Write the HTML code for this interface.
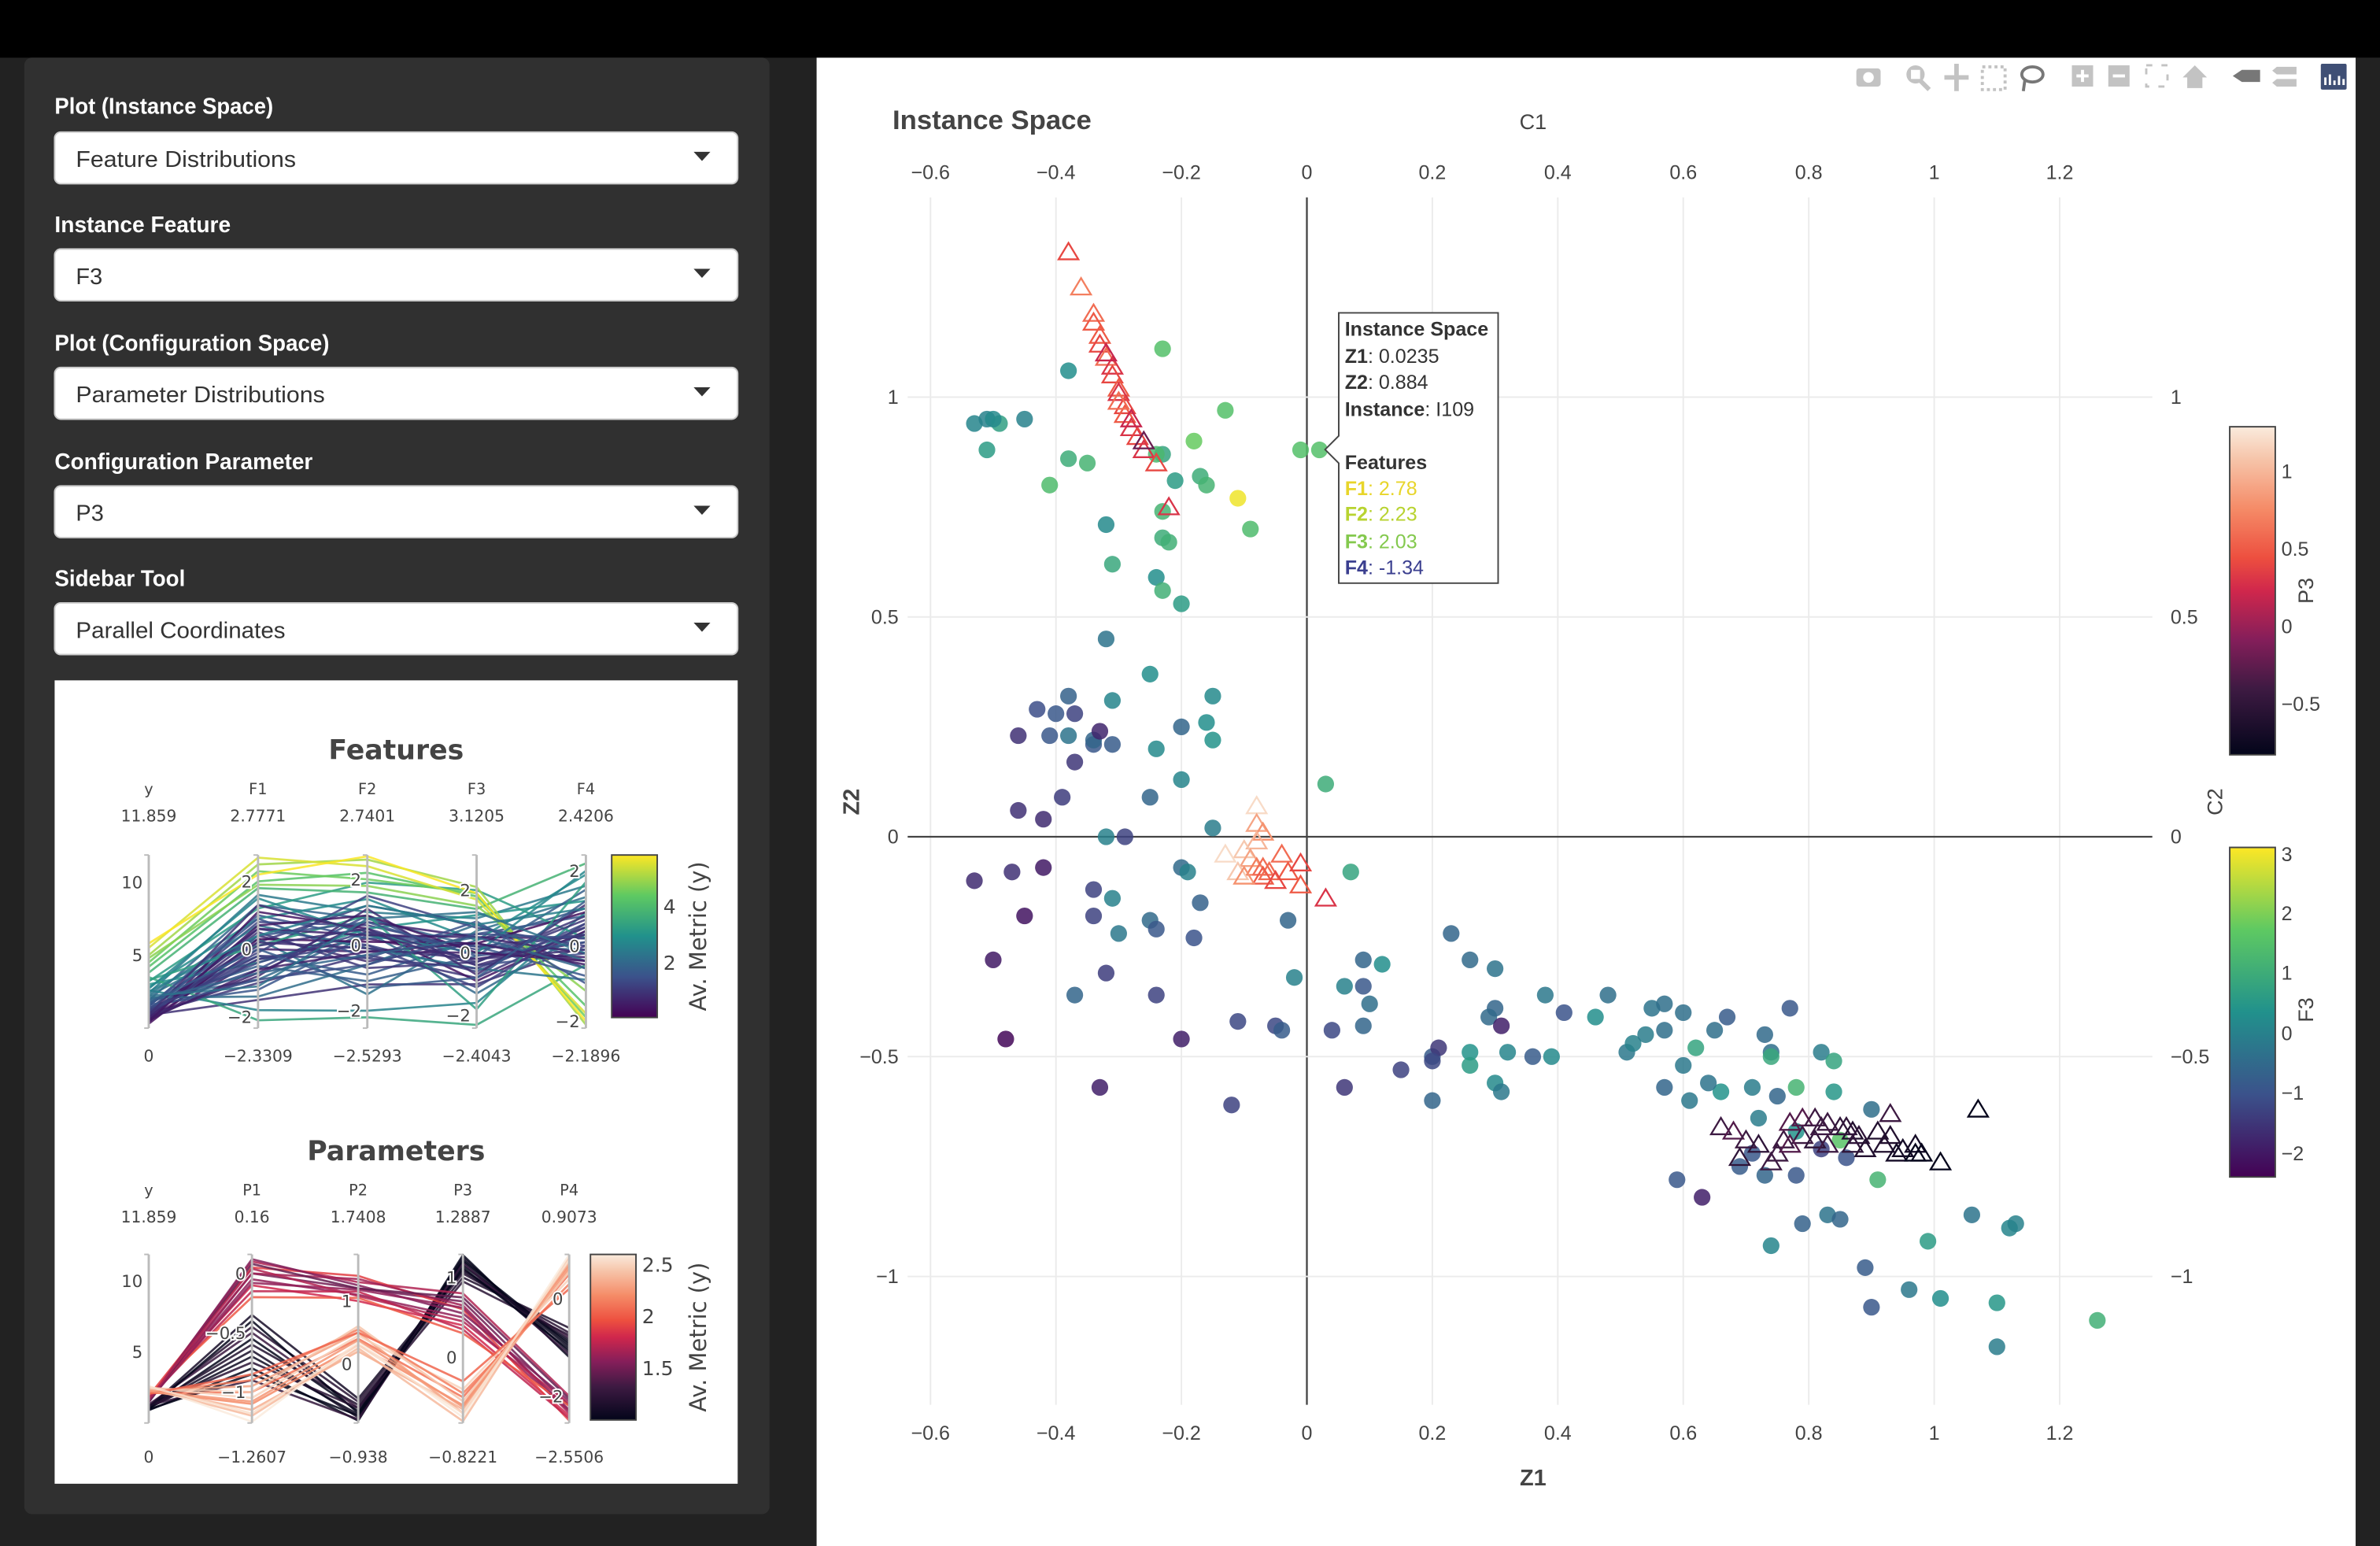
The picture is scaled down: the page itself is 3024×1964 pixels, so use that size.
<!DOCTYPE html>
<html><head><meta charset="utf-8"><style>
html,body{margin:0;padding:0;background:#222;}
svg{display:block;}
text{font-family:"Liberation Sans",sans-serif;}
.pc text{font-family:"DejaVu Sans","Liberation Sans",sans-serif;}
</style></head><body>
<svg id="root" width="3024" height="1964" viewBox="0 0 1568 1018" preserveAspectRatio="none" xmlns="http://www.w3.org/2000/svg">
<defs>
<linearGradient id="gViridis" x1="0" y1="1" x2="0" y2="0">
<stop offset="0" stop-color="#440154"/><stop offset="0.25" stop-color="#3b528b"/><stop offset="0.5" stop-color="#21918c"/><stop offset="0.75" stop-color="#5ec962"/><stop offset="1" stop-color="#fde725"/>
</linearGradient>
<linearGradient id="gRocket" x1="0" y1="1" x2="0" y2="0">
<stop offset="0" stop-color="#03051a"/><stop offset="0.2" stop-color="#3d1a42"/><stop offset="0.35" stop-color="#841e5a"/><stop offset="0.5" stop-color="#d0274c"/><stop offset="0.6" stop-color="#ed4f3f"/><stop offset="0.75" stop-color="#f58b67"/><stop offset="0.9" stop-color="#f6c4a9"/><stop offset="1" stop-color="#faebdd"/>
</linearGradient>
</defs>
<rect x="0" y="0" width="1568" height="1018" fill="#222"/>
<rect x="0" y="0" width="1568" height="38" fill="#000"/>

<g>
<rect x="16" y="38" width="491" height="959" rx="5" fill="#303030"/>
<g fill="#fff" font-weight="bold" font-size="15">
<text x="36" y="75" textLength="144" lengthAdjust="spacingAndGlyphs">Plot (Instance Space)</text>
<text x="36" y="153" textLength="116" lengthAdjust="spacingAndGlyphs">Instance Feature</text>
<text x="36" y="231" textLength="181" lengthAdjust="spacingAndGlyphs">Plot (Configuration Space)</text>
<text x="36" y="309" textLength="170" lengthAdjust="spacingAndGlyphs">Configuration Parameter</text>
<text x="36" y="386" textLength="86" lengthAdjust="spacingAndGlyphs">Sidebar Tool</text>
</g>
<g><rect x="36" y="87" width="450" height="34" rx="4" fill="#fff" stroke="#ccc"/><text x="50" y="110" font-size="15" fill="#333" textLength="145" lengthAdjust="spacingAndGlyphs">Feature Distributions</text><path d="M457 100h11l-5.5 6z" fill="#333"/></g>
<g><rect x="36" y="164" width="450" height="34" rx="4" fill="#fff" stroke="#ccc"/><text x="50" y="187" font-size="15" fill="#333">F3</text><path d="M457 177h11l-5.5 6z" fill="#333"/></g>
<g><rect x="36" y="242" width="450" height="34" rx="4" fill="#fff" stroke="#ccc"/><text x="50" y="265" font-size="15" fill="#333" textLength="164" lengthAdjust="spacingAndGlyphs">Parameter Distributions</text><path d="M457 255h11l-5.5 6z" fill="#333"/></g>
<g><rect x="36" y="320" width="450" height="34" rx="4" fill="#fff" stroke="#ccc"/><text x="50" y="343" font-size="15" fill="#333">P3</text><path d="M457 333h11l-5.5 6z" fill="#333"/></g>
<g><rect x="36" y="397" width="450" height="34" rx="4" fill="#fff" stroke="#ccc"/><text x="50" y="420" font-size="15" fill="#333" textLength="138" lengthAdjust="spacingAndGlyphs">Parallel Coordinates</text><path d="M457 410h11l-5.5 6z" fill="#333"/></g>
<rect x="36" y="448" width="450" height="529" fill="#fff"/>
<g class="pc" id="pcFeat">
<text x="261" y="500" text-anchor="middle" font-size="18" font-weight="bold" fill="#444">Features</text>
</g>
<g class="pc" id="pcPar">
<text x="261" y="764" text-anchor="middle" font-size="18" font-weight="bold" fill="#444">Parameters</text>
</g>
</g>

<rect x="538" y="38" width="1014" height="980" fill="#fff"/>
<g id="main">
<text x="588" y="85" font-size="18" font-weight="bold" fill="#444">Instance Space</text>
<text x="1010" y="85" font-size="14" fill="#444" text-anchor="middle">C1</text>
<text x="1010" y="978" font-size="15" font-weight="bold" fill="#444" text-anchor="middle">Z1</text>
<text transform="translate(566,528) rotate(-90)" font-size="15" font-weight="bold" fill="#444" text-anchor="middle">Z2</text>
<text transform="translate(1464,528) rotate(-90)" font-size="14" fill="#444" text-anchor="middle">C2</text>
<g id="grid"></g>
<g id="marks"></g>
<g>
<path d="M882 206H987V384H882V305L873 296L882 287Z" fill="#fff" stroke="#444" stroke-width="1"/>
<g font-size="13" fill="#333">
<text x="886" y="221" font-weight="bold">Instance Space</text>
<text x="886" y="239"><tspan font-weight="bold">Z1</tspan>: 0.0235</text>
<text x="886" y="256"><tspan font-weight="bold">Z2</tspan>: 0.884</text>
<text x="886" y="274"><tspan font-weight="bold">Instance</tspan>: I109</text>
<text x="886" y="309" font-weight="bold">Features</text>
<text x="886" y="326" fill="#e8d52a"><tspan font-weight="bold">F1</tspan>: 2.78</text>
<text x="886" y="343" fill="#b8d330"><tspan font-weight="bold">F2</tspan>: 2.23</text>
<text x="886" y="361" fill="#84c94e"><tspan font-weight="bold">F3</tspan>: 2.03</text>
<text x="886" y="378" fill="#3b3f8f"><tspan font-weight="bold">F4</tspan>: -1.34</text>
</g></g>
<g>
<rect x="1469" y="281" width="30" height="216" fill="url(#gRocket)" stroke="#444" stroke-width="1"/>
<g font-size="13" fill="#444"><text x="1503" y="315">1</text><text x="1503" y="366">0.5</text><text x="1503" y="417">0</text><text x="1503" y="468">−0.5</text></g>
<text transform="translate(1524,389) rotate(-90)" font-size="14" fill="#444" text-anchor="middle">P3</text>
</g>
<g>
<rect x="1469" y="558" width="30" height="217" fill="url(#gViridis)" stroke="#444" stroke-width="1"/>
<g font-size="13" fill="#444"><text x="1503" y="567">3</text><text x="1503" y="606">2</text><text x="1503" y="645">1</text><text x="1503" y="685">0</text><text x="1503" y="724">−1</text><text x="1503" y="764">−2</text></g>
<text transform="translate(1524,665) rotate(-90)" font-size="14" fill="#444" text-anchor="middle">F3</text>
</g>
<g fill="#c3c3c3">
<g><rect x="1223" y="45" width="16" height="12" rx="2"/><circle cx="1231" cy="51" r="3.5" fill="#fff"/></g>
<g><circle cx="1262" cy="49" r="6"/><rect x="1259" y="46" width="6" height="6" fill="#fff"/><path d="M1265 53l6 6" stroke="#c3c3c3" stroke-width="3"/></g>
<g><path d="M1289 42v18M1281 51h16" stroke="#c3c3c3" stroke-width="3"/></g>
<g><rect x="1306" y="44" width="15" height="15" fill="none" stroke="#c3c3c3" stroke-width="2" stroke-dasharray="2 2"/></g>
<g><ellipse cx="1339" cy="49" rx="7" ry="5" fill="none" stroke="#777" stroke-width="2"/><path d="M1334 53l-1 7" stroke="#777" stroke-width="2"/></g>
<g><rect x="1365" y="43" width="14" height="14"/><path d="M1372 46v8M1368 50h8" stroke="#fff" stroke-width="2"/></g>
<g><rect x="1389" y="43" width="14" height="14"/><path d="M1392 50h8" stroke="#fff" stroke-width="2"/></g>
<g><rect x="1414" y="43" width="14" height="14" fill="none" stroke="#c3c3c3" stroke-width="1.5" stroke-dasharray="4 6"/></g>
<g><path d="M1438 51l8-8 8 8h-3v7h-10v-7z"/></g>
<g><path d="M1471 50l6-4h12v8h-12z" fill="#777"/></g>
<g><path d="M1500 44h13v5h-13l-3-2.5zM1500 52h13v5h-13l-3-2.5z"/></g>
<g><rect x="1529" y="42" width="17" height="17" rx="1" fill="#3f4f75"/><path d="M1532 56v-5M1535 56v-7M1538 56v-3M1541 56v-6M1544 56v-4" stroke="#fff" stroke-width="1.5"/></g>
</g>
</g>
<rect x="1552" y="38" width="16" height="980" fill="#222"/>
</svg>
<script>
const circleZ1 = [-0.53,-0.51,-0.49,-0.50,-0.45,-0.51,-0.38,-0.38,-0.35,-0.41,-0.23,-0.13,-0.18,-0.21,-0.23,-0.17,-0.16,-0.32,-0.23,-0.23,-0.22,-0.31,-0.09,-0.24,-0.23,-0.20,-0.01,0.02,-0.11,-0.24,
-0.32,-0.25,-0.38,-0.43,-0.40,-0.37,-0.46,-0.41,-0.31,-0.15,-0.16,-0.34,-0.37,-0.38,-0.34,-0.31,-0.33,-0.24,-0.20,-0.15,-0.20,-0.25,-0.39,-0.46,-0.42,-0.32,-0.29,0.03,-0.15,
-0.53,-0.47,-0.42,-0.45,-0.50,-0.34,-0.31,-0.34,-0.30,-0.25,-0.24,-0.18,-0.17,-0.20,-0.19,-0.03,-0.32,-0.37,-0.24,0.07,-0.02,-0.48,-0.20,-0.33,-0.11,-0.05,-0.04,-0.12,
0.04,0.06,0.09,0.12,0.06,0.09,0.10,0.09,0.15,0.20,0.21,0.20,0.20,0.23,0.26,0.30,0.30,0.29,0.26,0.31,0.32,0.30,0.31,0.26,0.36,0.39,0.38,0.41,0.48,0.46,0.51,0.52,0.55,0.57,0.57,0.54,0.60,0.62,0.65,0.67,0.60,0.57,0.61,0.66,0.73,0.77,0.74,0.71,0.74,0.75,0.78,0.82,0.84,0.78,0.72,0.59,0.63,0.69,0.71,0.73,0.78,0.82,0.85,0.91,0.74,0.79,0.83,0.85,0.89,0.90,0.96,1.01,1.06,1.10,1.10,1.12,1.13,1.26,0.99,0.84,0.64,0.86,0.90];
const circleZ2 = [0.94,0.95,0.94,0.95,0.95,0.88,1.06,0.86,0.85,0.80,1.11,0.97,0.90,0.81,0.87,0.82,0.80,0.71,0.74,0.68,0.67,0.62,0.70,0.59,0.56,0.53,0.88,0.88,0.77,0.87,
0.45,0.37,0.32,0.29,0.28,0.28,0.23,0.23,0.31,0.32,0.26,0.21,0.17,0.23,0.22,0.21,0.24,0.20,0.25,0.22,0.13,0.09,0.09,0.06,0.04,0.00,0.00,0.12,0.02,
-0.10,-0.08,-0.07,-0.18,-0.28,-0.12,-0.14,-0.18,-0.22,-0.19,-0.21,-0.23,-0.15,-0.07,-0.08,-0.19,-0.31,-0.36,-0.36,-0.08,-0.32,-0.46,-0.46,-0.57,-0.42,-0.43,-0.44,-0.61,
-0.44,-0.57,-0.28,-0.29,-0.34,-0.43,-0.38,-0.34,-0.53,-0.50,-0.48,-0.51,-0.60,-0.22,-0.28,-0.30,-0.39,-0.41,-0.49,-0.43,-0.49,-0.56,-0.58,-0.52,-0.50,-0.50,-0.36,-0.40,-0.36,-0.41,-0.49,-0.47,-0.39,-0.38,-0.44,-0.45,-0.40,-0.48,-0.44,-0.41,-0.52,-0.57,-0.60,-0.58,-0.45,-0.39,-0.49,-0.57,-0.50,-0.59,-0.57,-0.49,-0.58,-0.67,-0.64,-0.78,-0.82,-0.75,-0.72,-0.77,-0.77,-0.71,-0.69,-0.78,-0.93,-0.88,-0.86,-0.87,-0.98,-1.07,-1.03,-1.05,-0.86,-1.06,-1.16,-0.89,-0.88,-1.10,-0.92,-0.51,-0.56,-0.73,-0.62];
const circleF3 = [0.1,0.0,0.7,0.2,0.0,0.6,0.3,1.0,1.2,1.4,1.5,1.5,1.8,0.6,0.8,1.0,1.2,0.2,1.2,1.0,1.1,0.9,1.4,0.3,1.1,0.6,1.5,1.5,3.0,1.3,
-0.3,0.3,-0.7,-1.1,-0.9,-1.3,-1.6,-0.9,0.1,0.2,0.3,-0.9,-1.5,-0.3,-0.6,-0.8,-1.8,0.2,-0.6,0.4,0.1,-0.6,-1.4,-1.6,-1.7,0.0,-1.3,1.0,-0.1,
-1.7,-1.6,-2.0,-2.1,-2.0,-1.3,0.0,-1.3,-0.2,-0.5,-0.9,-1.0,-0.7,-0.5,0.0,-0.6,-1.4,-0.6,-1.3,0.8,0.0,-2.3,-1.9,-1.9,-1.2,-1.2,-0.8,-1.3,
-1.2,-1.5,-0.6,0.3,0.0,-0.6,-0.4,-0.9,-1.3,-0.8,-1.5,-1.2,-0.6,-0.6,-0.5,-0.3,-0.6,-0.5,0.4,-1.9,0.1,0.2,-0.2,0.6,-0.8,0.2,-0.2,-1.0,-0.4,0.3,-0.2,0.0,-0.3,-0.4,-0.4,-0.1,-0.4,0.8,-0.4,-0.8,-0.2,-0.6,-0.2,0.4,-0.5,-0.9,-0.4,-0.1,0.9,-0.6,1.2,-0.1,0.5,0.4,-0.1,-0.9,-1.9,-0.8,-0.9,-0.6,-0.9,-1.3,1.6,1.2,0.1,-0.7,-0.3,-0.6,-0.8,-0.9,-0.2,0.3,-0.3,0.5,-0.1,0.1,0.0,1.1,0.6,0.8,-0.3,-1.0,-0.4];
const triZ1 = [-0.38,-0.36,-0.34,-0.34,-0.33,-0.33,-0.32,-0.31,-0.31,-0.30,-0.30,-0.29,-0.29,-0.28,-0.27,-0.26,-0.26,-0.24,-0.22,-0.32,-0.30,-0.28,
-0.08,-0.08,-0.07,-0.08,-0.10,-0.09,-0.08,-0.07,-0.11,-0.06,-0.07,-0.04,-0.03,-0.01,-0.01,0.03,-0.10,-0.05,-0.13,
0.66,0.68,0.70,0.72,0.74,0.69,0.76,0.77,0.79,0.81,0.83,0.85,0.79,0.81,0.83,0.87,0.88,0.91,0.93,0.93,0.89,0.92,0.94,0.95,0.97,0.98,1.01,0.97,1.07,0.75,0.77,0.87,0.82,0.86];
const triZ2 = [1.33,1.25,1.19,1.17,1.14,1.12,1.09,1.07,1.05,1.02,1.01,0.98,0.96,0.93,0.91,0.88,0.90,0.85,0.75,1.10,0.99,0.95,
0.07,0.03,0.01,-0.01,-0.03,-0.05,-0.07,-0.07,-0.08,-0.08,-0.09,-0.04,-0.08,-0.06,-0.11,-0.14,-0.09,-0.10,-0.04,
-0.66,-0.67,-0.69,-0.70,-0.74,-0.73,-0.69,-0.65,-0.64,-0.64,-0.65,-0.66,-0.68,-0.69,-0.70,-0.67,-0.68,-0.67,-0.63,-0.68,-0.71,-0.70,-0.72,-0.71,-0.70,-0.72,-0.74,-0.72,-0.62,-0.72,-0.70,-0.70,-0.66,-0.66];
const triP3 = [0.4,0.7,0.6,0.5,0.5,0.4,0.6,0.3,0.4,0.5,0.3,0.4,0.5,0.3,0.4,0.3,-0.2,0.4,0.3,0.2,0.6,0.2,
1.2,0.9,0.8,1.0,1.1,0.9,0.7,0.6,1.1,0.6,0.5,0.6,0.5,0.4,0.5,0.3,0.8,0.4,1.2,
-0.4,-0.3,-0.4,-0.5,-0.4,-0.5,-0.4,-0.3,-0.3,-0.4,-0.4,-0.5,-0.4,-0.5,-0.4,-0.6,-0.5,-0.6,-0.4,-0.6,-0.6,-0.6,-0.7,-0.7,-0.7,-0.8,-0.8,-0.8,-0.8,-0.4,-0.3,-0.5,-0.4,-0.5];
const xTicks = [-0.6,-0.4,-0.2,0,0.2,0.4,0.6,0.8,1,1.2];
const yTicks = [-1,-0.5,0,0.5,1];

const featDims = ['y','F1','F2','F3','F4'];
const featMax = [11.859,2.7771,2.7401,3.1205,2.4206];
const featMin = [0,-2.3309,-2.5293,-2.4043,-2.1896];
const featTicks = [[5,10],[-2,0,2],[-2,0,2],[-2,0,2],[-2,0,2]];
const featLines = [
[0.5,-0.3,0.2,-0.2,0.1],[0.8,0.4,-0.5,0.3,-0.4],[1.0,-1.0,-0.3,-0.8,0.5],[1.2,0.8,0.6,0.1,0.3],[1.4,-0.6,0.9,-0.4,-0.2],
[1.5,1.0,0.2,0.6,0.8],[0.9,-1.5,-1.2,-1.0,0.0],[1.1,0.2,1.2,0.9,-0.6],[1.7,-0.2,-0.9,0.4,1.0],[1.3,0.6,0.0,-0.6,0.6],
[1.9,1.3,0.8,0.2,-0.1],[2.0,-0.9,0.4,-1.3,0.4],[2.2,0.3,-1.5,0.7,1.3],[2.4,1.6,1.0,1.1,1.6],[2.6,-1.8,-2.0,-1.6,0.9],
[2.8,0.9,1.4,0.4,1.9],[3.0,-0.4,0.5,1.2,1.2],[3.2,1.2,1.9,2.0,0.2],[3.5,-2.1,-2.2,-2.3,-0.5],[3.8,1.8,1.6,1.4,2.2],
[4.2,2.0,2.2,1.8,-1.6],[4.5,2.3,2.0,1.9,-1.9],[5.0,2.5,2.6,2.1,-2.1],[5.5,2.7,2.4,1.7,-1.8],[5.8,2.2,2.7,1.9,-2.0],
[4.8,1.9,1.8,1.5,-1.2],[0.6,0.0,-0.2,0.0,-0.3],[0.7,-0.7,0.7,0.5,0.2],[1.0,0.5,-0.7,-0.3,0.7],[1.6,-1.2,0.3,0.2,-0.8],
[0.4,1.1,0.5,-0.9,0.4],[1.2,-0.1,1.5,0.8,0.0],[2.3,0.7,-0.1,-0.5,-0.9],[1.8,-0.5,-1.1,-0.1,1.5],[0.3,0.3,0.1,0.3,0.9],
[2.1,-1.4,-0.6,0.9,-0.4],[3.3,0.1,0.9,-1.8,1.7],[1.5,0.9,-0.4,1.0,-1.0],[0.8,-0.8,1.1,-0.7,1.1],[2.7,1.5,0.3,0.0,2.0],
[0.9,0.2,-0.1,-0.2,-0.1],[1.3,-0.4,0.4,0.2,0.3],[0.7,0.6,0.3,0.5,-0.2],[1.1,-0.2,-0.4,-0.5,0.5],[1.6,0.4,0.7,-0.1,0.1],
[0.6,-0.6,-0.2,0.3,-0.5],[1.0,0.1,0.5,-0.3,0.8],[1.4,-0.9,-0.6,0.6,0.2],[0.5,0.7,0.9,0.0,-0.4],[1.2,-0.3,0.0,-1.1,0.6],
[2.5,0.4,1.2,0.9,1.0],[1.9,-0.7,-0.3,0.5,-0.6],[0.9,1.3,0.4,-0.4,0.3],[1.7,0.0,-1.3,-0.8,1.2],[2.2,-1.1,0.8,1.3,-0.2]];
const parDims = ['y','P1','P2','P3','P4'];
const parMax = [11.859,0.16,1.7408,1.2887,0.9073];
const parMin = [0,-1.2607,-0.938,-0.8221,-2.5506];
const parTicks = [[5,10],[-1,-0.5,0],[0,1],[0,1],[-2,0]];
const parLines = [
[1.0,-0.55,-0.75,1.15,-0.9],[1.1,-0.65,-0.85,1.25,-1.1],[1.2,-0.45,-0.6,1.05,-0.7],[0.9,-0.8,-0.9,1.28,-1.2],[1.3,-0.5,-0.7,1.1,-0.8],
[1.05,-0.7,-0.8,1.2,-1.0],[1.15,-0.6,-0.65,1.0,-0.6],[1.25,-0.9,-0.88,1.18,-1.15],[1.0,-0.4,-0.78,1.22,-0.95],[1.2,-0.75,-0.7,0.95,-0.75],
[1.1,-0.35,-0.55,1.08,-0.85],[0.95,-0.85,-0.82,1.12,-1.05],
[1.5,0.0,1.2,0.7,-2.2],[1.6,-0.05,1.1,0.5,-2.3],[1.7,0.1,1.3,0.8,-2.0],[1.8,-0.1,1.0,0.4,-2.4],[1.9,0.05,1.4,0.6,-2.5],
[1.55,0.12,1.25,0.55,-2.1],[1.75,-0.15,1.15,0.35,-2.45],[1.65,0.0,1.35,0.65,-2.35],[2.0,-0.2,1.05,0.3,-2.2],[1.45,0.08,1.2,0.75,-2.05],
[1.6,-0.08,1.18,0.62,-2.28],[1.7,0.04,1.08,0.45,-2.15],
[2.1,-1.0,0.4,-0.5,0.5],[2.2,-1.1,0.3,-0.6,0.7],[2.3,-0.95,0.5,-0.7,0.6],[2.4,-1.2,0.25,-0.8,0.85],[2.5,-1.05,0.45,-0.4,0.4],
[2.6,-1.25,0.35,-0.75,0.9],[2.15,-0.9,0.55,-0.45,0.3],[2.35,-1.15,0.2,-0.65,0.75],[2.45,-1.0,0.6,-0.55,0.55],[2.05,-0.85,0.5,-0.3,0.2],
[2.25,-1.08,0.38,-0.62,0.65],[2.55,-1.18,0.3,-0.7,0.8]];

const NS = 'http://www.w3.org/2000/svg';
function mk(tag, attrs, parent){const e=document.createElementNS(NS,tag);for(const k in attrs)e.setAttribute(k,attrs[k]);if(parent)parent.appendChild(e);return e;}
function hex(c){return [parseInt(c.slice(1,3),16),parseInt(c.slice(3,5),16),parseInt(c.slice(5,7),16)];}
function cmap(stops, t){t=Math.max(0,Math.min(1,t));for(let i=1;i<stops.length;i++){if(t<=stops[i][0]){const a=stops[i-1],b=stops[i];const u=(t-a[0])/(b[0]-a[0]);const ca=hex(a[1]),cb=hex(b[1]);return 'rgb('+ca.map((v,j)=>Math.round(v+(cb[j]-v)*u)).join(',')+')';}}return stops[stops.length-1][1];}
const VIR=[[0,'#440154'],[0.25,'#3b528b'],[0.5,'#21918c'],[0.75,'#5ec962'],[1,'#fde725']];
const ROC=[[0,'#03051a'],[0.2,'#3d1a42'],[0.35,'#841e5a'],[0.5,'#d0274c'],[0.6,'#ed4f3f'],[0.75,'#f58b67'],[0.9,'#f6c4a9'],[1,'#faebdd']];
function fmt(v){return (v<0?'−':'')+Math.abs(v);}

const sx = v => 861 + v*413.3;
const sy = v => 551 - v*289.5;
const grid = document.getElementById('grid');
xTicks.forEach(t=>{
  const l=mk('line',{x1:sx(t),x2:sx(t),y1:130,y2:925,stroke:t===0?'#444':'#ebebeb','stroke-width':t===0?1.2:1},grid);
  
  
  [118,948].forEach(yy=>{const tx=mk('text',{x:sx(t),y:yy,'font-size':13,fill:'#444','text-anchor':'middle'},grid);tx.textContent=fmt(t);
  
  });
});
yTicks.forEach(t=>{
  const l=mk('line',{x1:598,x2:1418,y1:sy(t),y2:sy(t),stroke:t===0?'#444':'#ebebeb','stroke-width':t===0?1.2:1},grid);
  
  
  const a=mk('text',{x:592,y:sy(t)+4.5,'font-size':13,fill:'#444','text-anchor':'end'},grid);a.textContent=fmt(t);
  
  
  const b=mk('text',{x:1430,y:sy(t)+4.5,'font-size':13,fill:'#444'},grid);b.textContent=fmt(t);
  
  
});
const marks=document.getElementById('marks');
const f3min=-2.4043,f3max=3.1205,p3min=-0.8221,p3max=1.2887;
circleZ1.forEach((z,i)=>{
  const c=mk('circle',{cx:sx(z),cy:sy(circleZ2[i]),r:5.5,fill:cmap(VIR,(circleF3[i]-f3min)/(f3max-f3min)),'fill-opacity':0.85},marks);
  
  
});
triZ1.forEach((z,i)=>{
  const x=sx(z),y=sy(triZ2[i]);
  const p=mk('path',{d:`M${x} ${y-6}L${x-6.5} ${y+4.8}L${x+6.5} ${y+4.8}Z`,fill:'none',stroke:cmap(ROC,(triP3[i]-p3min)/(p3max-p3min)),'stroke-width':1.2},marks);
  
  
});

function parcoords(gid, dims, mins, maxs, ticks, lines, axX, top, bot, stops, cmin, cmax, labY, valY, botY, cbX, cbTop, cbBot, cbTicks, cbGrad){
  const g=document.getElementById(gid);
  const py=(d,v)=>bot-(v-mins[d])/(maxs[d]-mins[d])*(bot-top);
  lines.forEach(L=>{
    const pts=L.map((v,d)=>axX[d]+','+py(d,v)).join(' ');
    const pl=mk('polyline',{points:pts,fill:'none',stroke:cmap(stops,(L[0]-cmin)/(cmax-cmin)),'stroke-width':1.4,'stroke-opacity':0.85},g);
    
    
  });
  dims.forEach((nm,d)=>{
    const ax=mk('line',{x1:axX[d],x2:axX[d],y1:top,y2:bot,stroke:'#bbb','stroke-width':1.5},g);
    
    
    mk('line',{x1:axX[d]-3,x2:axX[d],y1:top,y2:top,stroke:'#bbb'},g);
    mk('line',{x1:axX[d]-3,x2:axX[d],y1:bot,y2:bot,stroke:'#bbb'},g);
    const t1=mk('text',{x:axX[d],y:labY,'font-size':10,fill:'#444','text-anchor':'middle'},g);t1.textContent=nm;
    
    
    const t2=mk('text',{x:axX[d],y:valY,'font-size':10.5,fill:'#444','text-anchor':'middle'},g);t2.textContent=String(maxs[d]);
    
    
    const t3=mk('text',{x:axX[d],y:botY,'font-size':10.5,fill:'#444','text-anchor':'middle'},g);t3.textContent=fmt(mins[d]);
    
    
    ticks[d].forEach(tv=>{
      const tt=mk('text',{x:axX[d]-4,y:py(d,tv)+4,'font-size':11,fill:'#444','text-anchor':'end',stroke:d?'#fff':'none','stroke-width':d?2:0,'paint-order':'stroke'},g);tt.textContent=fmt(tv);
      
      
    });
  });
  const cb=mk('rect',{x:cbX,y:cbTop,width:30,height:cbBot-cbTop,fill:'url(#'+cbGrad+')',stroke:'#444','stroke-width':1},g);
  
  
  cbTicks.forEach(tv=>{
    const y=cbBot-(tv-cmin)/(cmax-cmin)*(cbBot-cbTop);
    const t=mk('text',{x:cbX+34,y:y+4.5,'font-size':13,fill:'#444'},g);t.textContent=String(tv);
    
    
  });
  const ttl=mk('text',{transform:`translate(465,${(cbTop+cbBot)/2}) rotate(-90)`,'font-size':15,fill:'#444','text-anchor':'middle'},g);ttl.textContent='Av. Metric (y)';
  
  
}
parcoords('pcFeat',featDims,featMin,featMax,featTicks,featLines,[98,170,242,314,386],563,677,VIR,0.05,5.84,523,541,699,403,563,670,[2,4],'gViridis');
parcoords('pcPar',parDims,parMin,parMax,parTicks,parLines,[98,166,236,305,375],826,937,ROC,1.0,2.6,787,805,963,389,826,935,[1.5,2,2.5],'gRocket');
</script>
</body></html>
